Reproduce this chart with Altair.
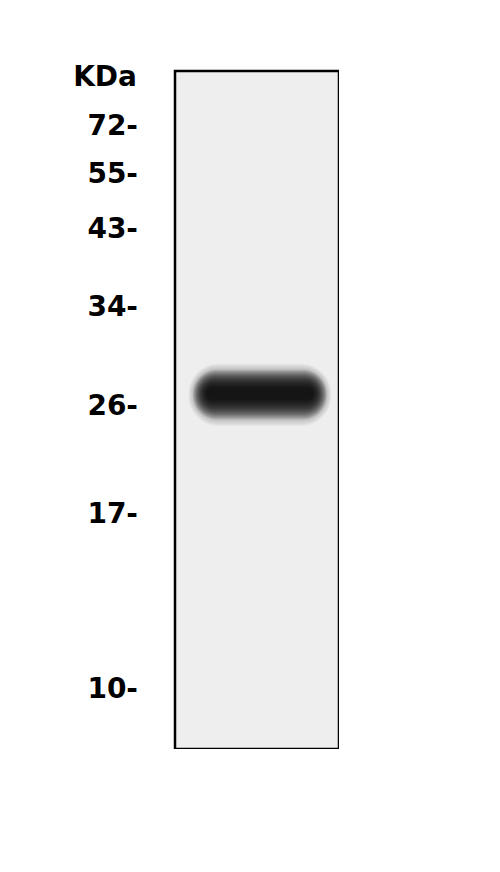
import altair as alt
import pandas as pd

# Molecular-weight ladder (kDa) and migration position (% of lane length from the top)
marker_kda = ["72", "55", "43", "34", "26", "17", "10"]
marker_pos = [8.3, 15.3, 23.5, 35.0, 49.6, 65.5, 91.3]
unit_label = ["KDa"]

# Detected band: migration extent (% of lane length) and lateral extent (fraction of lane width)
band_top = [45.7]
band_bottom = [49.6]
band_left = [0.16]
band_right = [0.875]

markers = pd.DataFrame({"kda": marker_kda, "pos": marker_pos})
markers["label"] = markers["kda"] + "-"
band = pd.DataFrame({"y1": band_top, "y2": band_bottom, "x1": band_left, "x2": band_right})
lane = pd.DataFrame({"x1": [0], "x2": [1], "y1": [0], "y2": [100]})

yscale = alt.Scale(domain=[0, 100], reverse=True, nice=False, zero=False)
xscale = alt.Scale(domain=[0, 1], nice=False, zero=False)

enc = dict(
    x=alt.X("x1:Q", scale=xscale, axis=None),
    x2="x2:Q",
    y=alt.Y("y1:Q", scale=yscale, axis=None),
    y2="y2:Q",
)

layers = [
    alt.Chart(lane).mark_rect(fill="#eeeeee").encode(**enc)
]
# blurred band: many faint nested rounded rectangles, darkening toward the centre
for e in range(17, -8, -1):
    xe = e * 0.75
    layers.append(
        alt.Chart(band).mark_rect(
            color="#000000", opacity=0.1 if e <= 11 else 0.03,
            xOffset=-xe, x2Offset=xe, yOffset=-e, y2Offset=e * 1.1,
            cornerRadius=13 + e,
        ).encode(**enc)
    )
# lane border
layers.append(
    alt.Chart(lane).mark_rect(fill=None, stroke="#000000", strokeWidth=2.5).encode(**enc)
)

labels = alt.Chart(markers).mark_text(
    align="right", baseline="middle", font="DejaVu Sans", fontWeight="bold",
    fontSize=28, color="#000000",
).encode(
    x=alt.value(-37),
    y=alt.Y("pos:Q", scale=yscale, axis=None),
    text="label:N",
)

unit = alt.Chart(pd.DataFrame({"t": unit_label})).mark_text(
    align="right", baseline="middle", font="DejaVu Sans", fontWeight="bold",
    fontSize=28, color="#000000",
).encode(x=alt.value(-38), y=alt.value(7), text="t:N")

chart = alt.layer(*layers, labels, unit).properties(
    width=164, height=678,
    autosize=alt.AutoSizeParams(type="none"),
    padding={"left": 167, "top": 63, "right": 0, "bottom": 0},
).configure_view(stroke=None)

chart.save("out.html", embed_options={"renderer": "svg", "actions": False})
